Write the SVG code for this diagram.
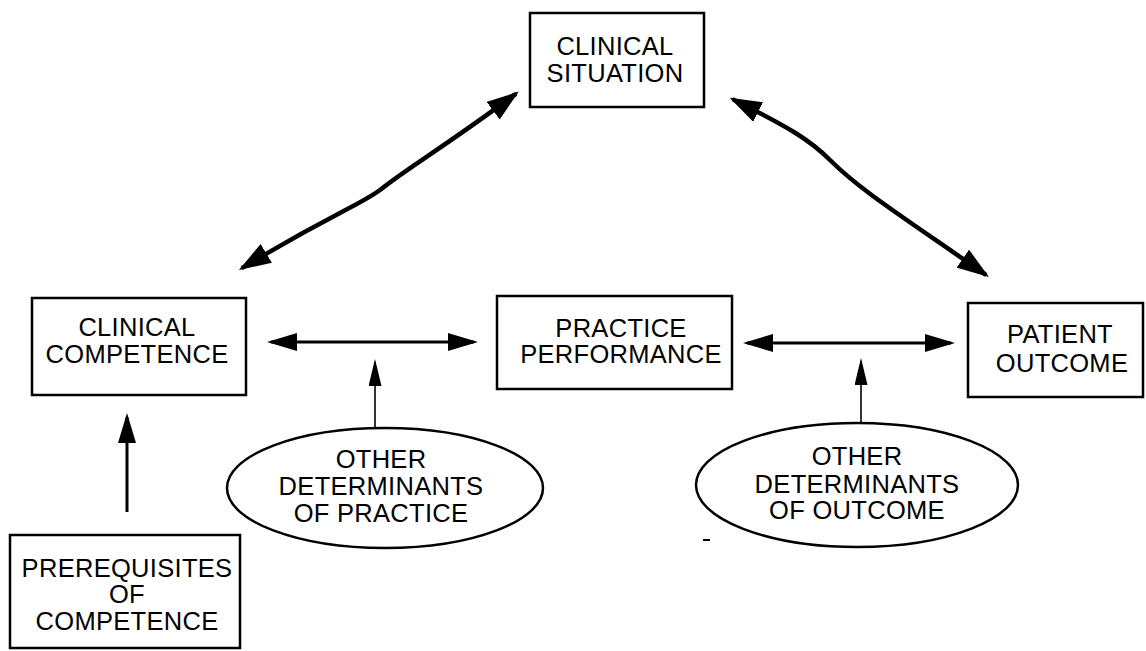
<svg xmlns="http://www.w3.org/2000/svg" width="1146" height="651" viewBox="0 0 1146 651">
<style>
.box{fill:#fff;stroke:#000;stroke-width:2.5}
.ell{fill:#fff;stroke:#000;stroke-width:2.5}
.t{font-family:"Liberation Sans",Arial,sans-serif;font-size:25.5px;letter-spacing:0.3px;fill:#000;text-anchor:middle}
.big{fill:none;stroke:#000;stroke-width:3;marker-start:url(#ah);marker-end:url(#ah)}
.diag{fill:none;stroke:#000;stroke-width:4.5;stroke-linecap:round;marker-start:url(#dh);marker-end:url(#dh)}
.small{fill:none;stroke:#000;stroke-width:1.6;marker-end:url(#sh)}
.up{fill:none;stroke:#000;stroke-width:3;marker-end:url(#ah)}
</style>
<defs>
<marker id="ah" viewBox="0 0 30 18" refX="26" refY="9" markerWidth="30" markerHeight="18" markerUnits="userSpaceOnUse" orient="auto-start-reverse">
<path d="M0,0 L30,9 L0,18 z" fill="#000"/>
</marker>
<marker id="dh" viewBox="0 0 32 22" refX="27" refY="11" markerWidth="32" markerHeight="22" markerUnits="userSpaceOnUse" orient="auto-start-reverse">
<path d="M0,0 L32,11 L0,22 z" fill="#000"/>
</marker>
<marker id="sh" viewBox="0 0 27 13" refX="24" refY="6.5" markerWidth="27" markerHeight="13" markerUnits="userSpaceOnUse" orient="auto">
<path d="M0,0 L27,6.5 L0,13 z" fill="#000"/>
</marker>
</defs>
<rect width="1146" height="651" fill="#fff"/>
<g id="connectors">
<path class="diag" d="M243.2,267.4 C330,215 360,205 380,190 C410,166 440,150 514.8,94.6"/>
<path class="diag" d="M734.1,99.9 C790,128 810,140 830,160 C860,190 900,215 984.9,274.1"/>
<path class="big" d="M271,342 L474,342"/>
<path class="big" d="M747,343 L951,343"/>
<path class="small" d="M375,428 L375,362"/>
<path class="small" d="M861,423 L861,361"/>
<path class="up" d="M127,512 L127,417"/>
</g>
<g id="clinical-situation">
<rect class="box" x="530" y="13" width="174" height="94"/>
<text class="t" x="615" y="55">CLINICAL</text>
<text class="t" x="615" y="82">SITUATION</text>
</g>
<g id="clinical-competence">
<rect class="box" x="32" y="298" width="214" height="97"/>
<text class="t" x="137" y="336">CLINICAL</text>
<text class="t" x="137" y="363">COMPETENCE</text>
</g>
<g id="practice-performance">
<rect class="box" x="497" y="296" width="235" height="93"/>
<text class="t" x="621" y="337">PRACTICE</text>
<text class="t" x="621" y="363">PERFORMANCE</text>
</g>
<g id="patient-outcome">
<rect class="box" x="968" y="303" width="175" height="94"/>
<text class="t" x="1060" y="343">PATIENT</text>
<text class="t" x="1062" y="372">OUTCOME</text>
</g>
<g id="prerequisites">
<rect class="box" x="10" y="535" width="230" height="113"/>
<text class="t" x="127" y="577">PREREQUISITES</text>
<text class="t" x="127" y="603">OF</text>
<text class="t" x="127" y="630">COMPETENCE</text>
</g>
<g id="determinants-practice">
<ellipse class="ell" cx="385" cy="488" rx="158" ry="60"/>
<text class="t" x="381" y="468">OTHER</text>
<text class="t" x="381" y="495">DETERMINANTS</text>
<text class="t" x="381" y="522">OF PRACTICE</text>
</g>
<g id="determinants-outcome">
<ellipse class="ell" cx="857" cy="485" rx="161" ry="62"/>
<text class="t" x="857" y="465">OTHER</text>
<text class="t" x="857" y="493">DETERMINANTS</text>
<text class="t" x="857" y="519">OF OUTCOME</text>
</g>
<line x1="703" y1="540" x2="710" y2="540" stroke="#000" stroke-width="2"/>
</svg>
